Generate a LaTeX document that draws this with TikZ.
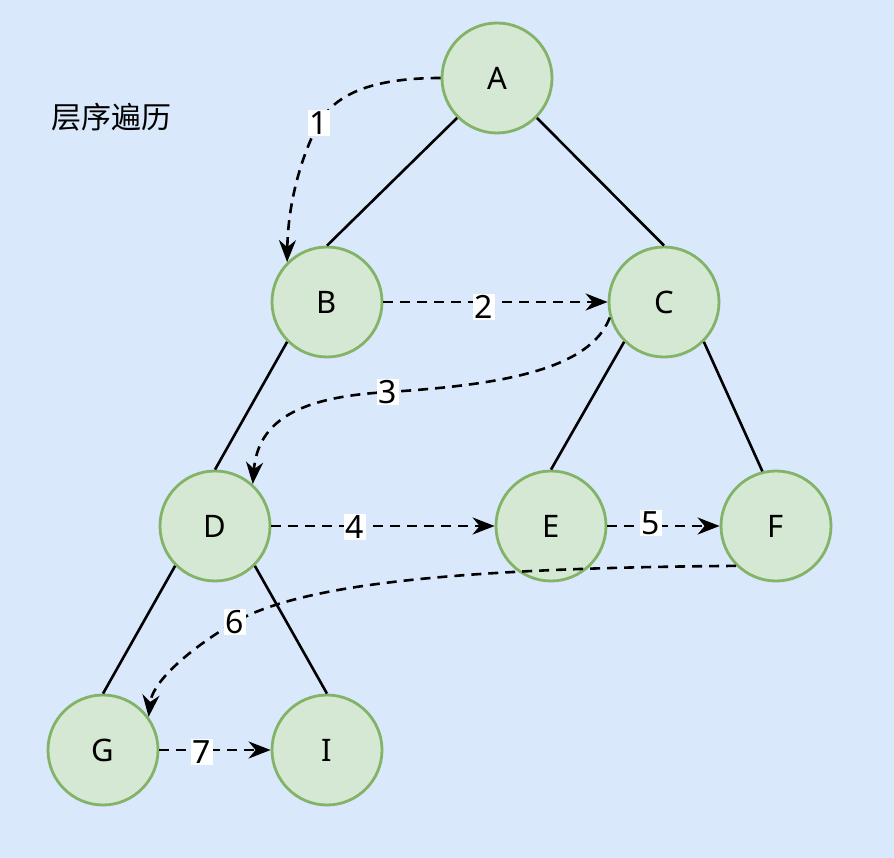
\documentclass[tikz,border=0pt]{standalone}
\usepackage{fontspec}
\setmainfont{Noto Sans}
\newfontfamily\cjkfont{Noto Sans CJK SC}
\usetikzlibrary{arrows.meta}
\definecolor{bgblue}{HTML}{DAE8FC}
\definecolor{nodefill}{HTML}{D5E8D4}
\definecolor{nodeline}{HTML}{82B366}
\tikzset{
  tnode/.style={circle, draw=nodeline, fill=nodefill, line width=2.8pt, minimum size=110pt, inner sep=0pt, font=\fontsize{31}{34}\selectfont},
  tedge/.style={line width=2.6pt, black},
  trav/.style={line width=2.6pt, black, dash pattern=on 10pt off 7pt, -{Stealth[length=22pt,width=17pt,inset=7pt]}},
  lbl/.style={fill=white, inner sep=1.5pt, font=\fontsize{32}{34}\selectfont}
}
\begin{document}
\begin{tikzpicture}[x=1pt,y=-1pt]
\fill[bgblue] (0,0) rectangle (894,858);
\useasboundingbox (0,0) rectangle (894,858);
\node[anchor=west, font=\cjkfont\fontsize{30}{34}\selectfont] (title) at (48,117) {层序遍历};
\node[tnode] (A) at (497,78) {A};
\node[tnode] (B) at (327,302) {B};
\node[tnode] (C) at (664,302) {C};
\node[tnode] (D) at (215,526) {D};
\node[tnode] (E) at (551,526) {E};
\node[tnode] (F) at (776,526) {F};
\node[tnode] (G) at (103,750) {G};
\node[tnode] (I) at (327,750) {I};
% tree edges
\draw[tedge] (A.225) -- (B.north);
\draw[tedge] (A.-45) -- (C.north);
\draw[tedge] (B.225) -- (D.north);
\draw[tedge] (C.225) -- (E.north);
\draw[tedge] (C.-45) -- (F.104);
\draw[tedge] (D.225) -- (G.north);
\draw[tedge] (D.-45) -- (I.north);
% traversal arrows
\coordinate (m1) at (319,123);
\coordinate (m3) at (388,392);
\coordinate (m6) at (235,622);
\draw[trav] (A.west) .. controls (370,78) and (335,95) .. (m1) .. controls (303,152) and (288,200) .. (B.135);
\draw[trav] (B.east) -- (C.west);
\draw[trav] (C.196) .. controls (590,370) and (500,385) .. (m3) .. controls (300,397) and (258,420) .. (D.48);
\draw[trav] (D.east) -- (E.west);
\draw[trav] (E.east) -- (F.west);
\draw[trav] (F.225) .. controls (450,568) and (300,585) .. (m6) .. controls (180,655) and (152,685) .. (G.36);
\draw[trav] (G.east) -- (I.west);
% labels
\node[lbl] (l1) at (m1) {1};
\node[lbl] (l2) at (484,307) {2};
\node[lbl] (l3) at (m3) {3};
\node[lbl] (l4) at (355,527) {4};
\node[lbl] (l5) at (651,523) {5};
\node[lbl] (l6) at (m6) {6};
\node[lbl] (l7) at (202,752) {7};
\end{tikzpicture}
\end{document}
